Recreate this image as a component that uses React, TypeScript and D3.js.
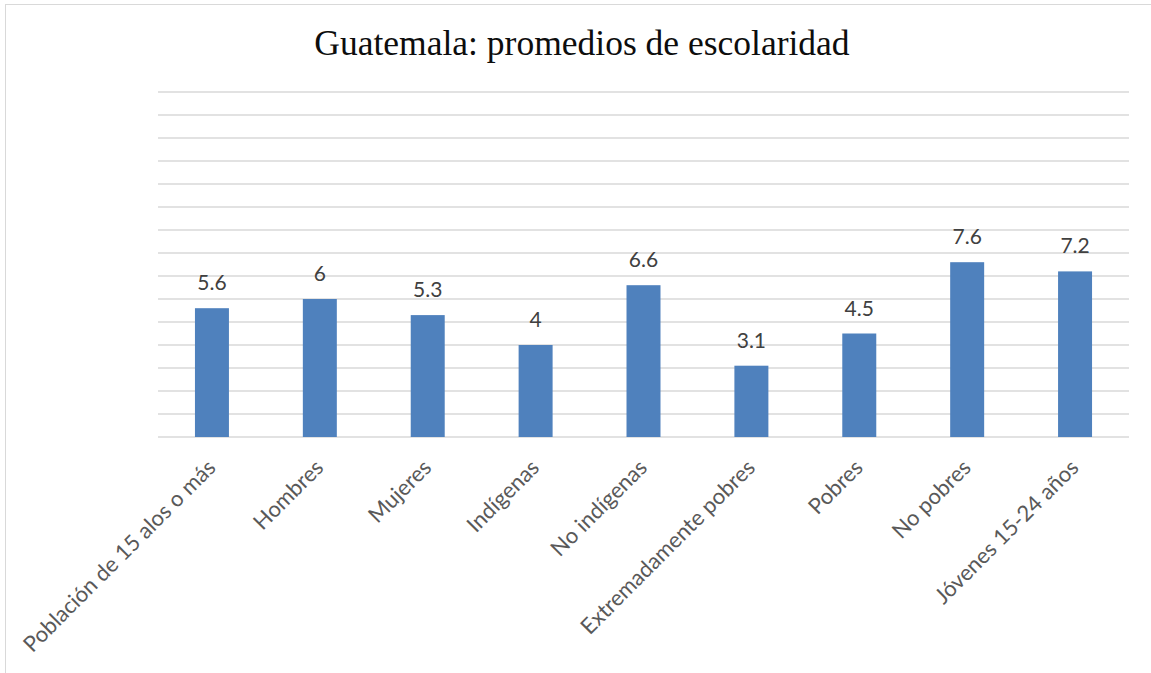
import React from "react";
import * as d3 from "d3";

const categories = [
  "Población de 15 alos o más",
  "Hombres",
  "Mujeres",
  "Indígenas",
  "No indígenas",
  "Extremadamente pobres",
  "Pobres",
  "No pobres",
  "Jóvenes 15-24 años",
];
const values = [5.6, 6, 5.3, 4, 6.6, 3.1, 4.5, 7.6, 7.2];
const gridTicks = d3.range(0, 16, 1);
const title = "Guatemala: promedios de escolaridad";

const W = 1151;
const H = 673;
const plot = { left: 158, right: 1129, top: 92, bottom: 437 };

export default function App() {
  const x = d3
    .scaleBand<string>()
    .domain(categories)
    .range([plot.left, plot.right])
    .paddingInner(0.685)
    .paddingOuter(0.3425);
  const y = d3.scaleLinear().domain([0, 15]).range([plot.bottom, plot.top]);
  const catFont = "Lato, 'Noto Sans', sans-serif";

  return (
    <svg
      width={W}
      height={H}
      style={{ position: "absolute", left: 0, top: 0, background: "#fff" }}
    >
      <rect x={5.5} y={4.5} width={W + 10} height={H + 10} fill="#fff" stroke="#d9d9d9" strokeWidth={1} />
      <text
        x={582}
        y={55}
        textAnchor="middle"
        fontFamily="'Liberation Serif', serif"
        fontSize={35.5}
        fill="#0d0d0d"
      >
        {title}
      </text>
      {gridTicks.map((t) => (
        <line
          key={t}
          x1={plot.left}
          x2={plot.right}
          y1={y(t)}
          y2={y(t)}
          stroke="#d9d9d9"
          strokeWidth={1.3}
        />
      ))}
      {categories.map((c, i) => (
        <rect
          key={c}
          x={x(c)}
          y={y(values[i])}
          width={x.bandwidth()}
          height={y(0) - y(values[i])}
          fill="#4f81bd"
        />
      ))}
      {categories.map((c, i) => (
        <text
          key={"v" + c}
          x={(x(c) as number) + x.bandwidth() / 2}
          y={y(values[i]) - 18}
          textAnchor="middle"
          fontFamily={catFont}
          fontSize={21}
          fill="#404040"
        >
          {values[i]}
        </text>
      ))}
      {categories.map((c) => {
        const cx = (x(c) as number) + x.bandwidth() / 2;
        return (
          <text
            key={"l" + c}
            transform={`translate(${cx + 5},${469}) rotate(-45)`}
            textAnchor="end"
            fontFamily={catFont}
            fontSize={22}
            fill="#595959"
          >
            {c}
          </text>
        );
      })}
    </svg>
  );
}
